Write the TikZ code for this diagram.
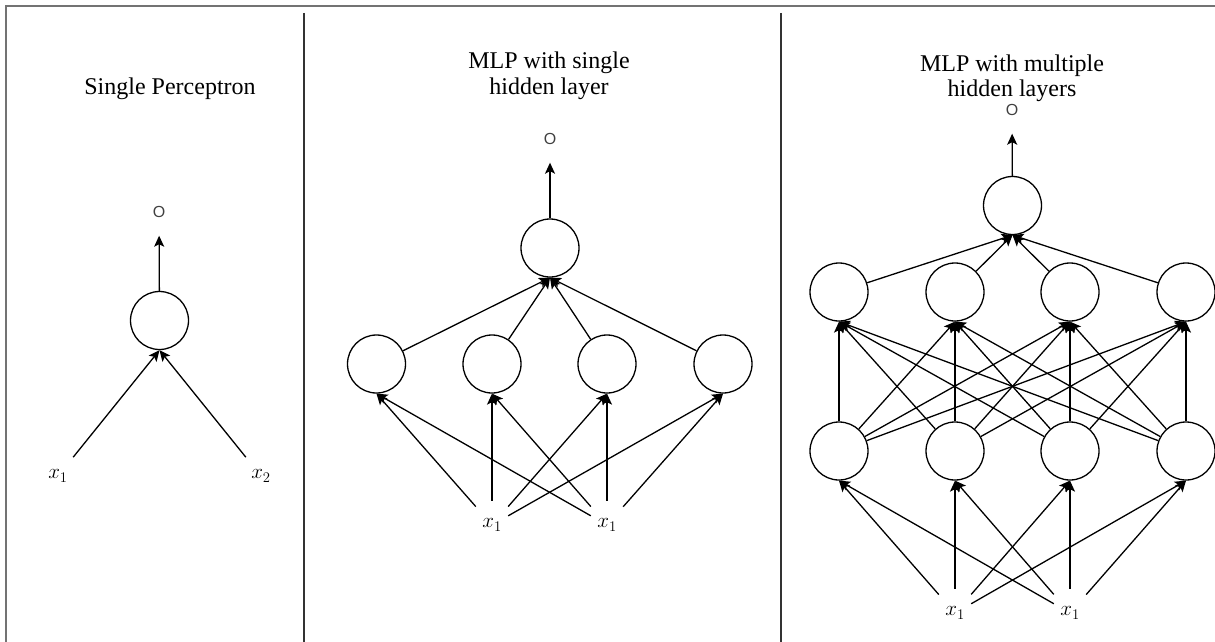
\RequirePackage{fix-cm}
\documentclass[tikz,border=0pt]{standalone}
\usepackage{fontspec}
\setmainfont{Liberation Serif}
\newfontfamily\lblsans{Liberation Sans}
\usetikzlibrary{arrows.meta}
\begin{document}
\begin{tikzpicture}[x=1pt,y=-1pt,
  neuron/.style={circle,draw,line width=1.3pt,minimum size=58pt,inner sep=0pt},
  conn/.style={line width=1.3pt,-{Stealth[length=11pt,width=10pt,inset=2.5pt]}},
  titletext/.style={font=\fontsize{24}{26}\selectfont,anchor=base,inner sep=0pt},
  outlbl/.style={font=\lblsans\fontsize{16}{16}\selectfont,text=black!75,minimum height=47pt,inner sep=0pt},
  inbox/.style={font=\fontsize{21}{21}\selectfont,minimum width=32pt,minimum height=48pt,inner sep=0pt},
  inround/.style={font=\fontsize{21}{21}\selectfont,circle,minimum size=48pt,inner sep=0pt},
  divider/.style={line width=1.4pt,draw=black!80},
  framepart/.style={line width=1.2pt,draw=black!55}]
\useasboundingbox (0,0) rectangle (1215,642);
\draw[framepart] (6,642) -- (6,6) -- (1215,6);
\draw[divider] (304,13) -- (304,642);
\draw[divider] (781,13) -- (781,642);

% Panel 1
\node[titletext] (t1) at (170,94) {Single Perceptron};
\node[outlbl] (o1) at (159,212) {O};
\node[neuron] (p1) at (159.5,320.5) {};
\node[inround] (x11) at (58,476) {$x_1$};
\node[inround] (x12) at (261,476) {$x_2$};
\draw[conn] (p1) -- (o1);
\draw[conn] (x11) -- (p1.south);
\draw[conn] (x12) -- (p1.south);

% Panel 2
\node[titletext] (t2a) at (549,68) {MLP with single};
\node[titletext] (t2b) at (549,94) {hidden layer};
\node[outlbl] (o2) at (550,139) {O};
\node[neuron] (q0) at (550,248) {};
\foreach \i/\x in {1/376.5,2/492,3/607,4/723}{
  \node[neuron] (q\i) at (\x,364) {};
}
\node[inbox] (a1) at (492,525) {$x_1$};
\node[inbox] (a2) at (607,525) {$x_1$};
\draw[conn] (q0) -- (o2);
\foreach \i in {1,...,4}{
  \draw[conn] (q\i) -- (q0.south);
  \draw[conn] (a1) -- (q\i.south);
  \draw[conn] (a2) -- (q\i.south);
}

% Panel 3
\node[titletext] (t3a) at (1012,71) {MLP with multiple};
\node[titletext] (t3b) at (1012,96) {hidden layers};
\node[outlbl] (o3) at (1012,110) {O};
\node[neuron] (r0) at (1012.5,205.5) {};
\foreach \i/\x in {1/839,2/955,3/1070,4/1186}{
  \node[neuron] (u\i) at (\x,292) {};
  \node[neuron] (v\i) at (\x,451) {};
}
\node[inbox] (b1) at (955,613) {$x_1$};
\node[inbox] (b2) at (1070,613) {$x_1$};
\draw[conn] (r0) -- (o3);
\foreach \i in {1,...,4}{
  \draw[conn] (u\i) -- (r0.south);
  \draw[conn] (b1) -- (v\i.south);
  \draw[conn] (b2) -- (v\i.south);
  \foreach \j in {1,...,4}{
    \draw[conn] (v\j) -- (u\i.south);
  }
}
\end{tikzpicture}
\end{document}
